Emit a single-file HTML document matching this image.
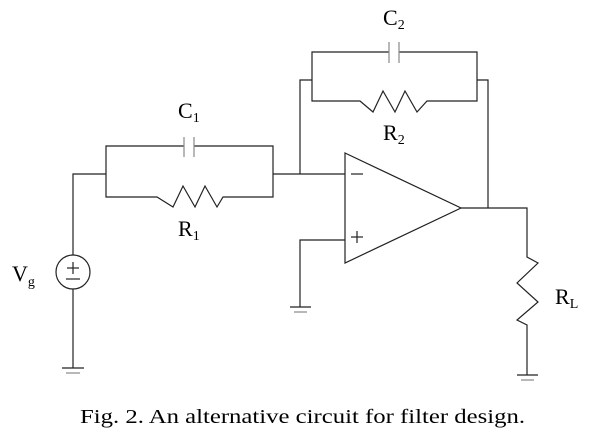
<!DOCTYPE html>
<html><head><style>
html,body{margin:0;padding:0;background:#fff;}
svg{display:block;}
text{font-family:"Liberation Serif",serif;fill:#000;}
</style></head><body>
<svg width="592" height="437" viewBox="0 0 592 437" xmlns="http://www.w3.org/2000/svg">
<g stroke="#222" stroke-width="1.2" fill="none">
<polyline points="73,255 73,174 106,174"/>
<circle cx="73" cy="272" r="17"/>
<line x1="73" y1="289" x2="73" y2="368"/>
<line x1="62" y1="368" x2="84" y2="368"/>
<line x1="66" y1="373" x2="80" y2="373" stroke="#888"/>
<polyline points="184,146 106,146 106,197 157,197 173,207 183,186 195,207 205,186 217,207 223,197 273,197 273,146 194,146"/>
<line x1="184" y1="137" x2="184" y2="157" stroke="#888"/>
<line x1="194" y1="137" x2="194" y2="157" stroke="#888"/>
<line x1="273" y1="174" x2="345" y2="174"/>
<polyline points="300,174 300,80 312,80"/>
<polyline points="389,52 312,52 312,101 360,101 373,112 383,91 395,112 405,91 417,112 427,101 477,101 477,52 399,52"/>
<line x1="389" y1="42" x2="389" y2="63" stroke="#888"/>
<line x1="399" y1="42" x2="399" y2="63" stroke="#888"/>
<polyline points="477,80 488,80 488,208"/>
<polygon points="345,153 461,208 345,263"/>
<line x1="351" y1="174" x2="363" y2="174"/>
<line x1="351" y1="237" x2="363" y2="237"/>
<line x1="357" y1="231" x2="357" y2="243"/>
<polyline points="345,240 300,240 300,307"/>
<line x1="290" y1="307" x2="311" y2="307"/>
<line x1="294" y1="312" x2="307" y2="312" stroke="#888"/>
<polyline points="461,208 527,208 527,257 538,263 517,283 538,302 517,320 527,325 527,375"/>
<line x1="517" y1="375" x2="538" y2="375"/>
<line x1="521" y1="380" x2="534" y2="380" stroke="#888"/>
<line x1="73" y1="262" x2="73" y2="274"/>
<line x1="67" y1="268" x2="79" y2="268"/>
<line x1="66" y1="279" x2="80" y2="279"/>
</g>
<text x="178" y="118" font-size="22">C<tspan font-size="14" dy="4">1</tspan></text>
<text x="178" y="236" font-size="22">R<tspan font-size="14" dy="4">1</tspan></text>
<text x="383" y="25" font-size="22">C<tspan font-size="14" dy="4">2</tspan></text>
<text x="383" y="140" font-size="22">R<tspan font-size="14" dy="4">2</tspan></text>
<text x="555" y="304" font-size="22">R<tspan font-size="14" dy="4">L</tspan></text>
<text x="12" y="281" font-size="22">V<tspan font-size="14" dy="5">g</tspan></text>
<text x="80" y="423" font-size="20" textLength="445" lengthAdjust="spacingAndGlyphs">Fig. 2. An alternative circuit for filter design.</text>
</svg>
</body></html>
